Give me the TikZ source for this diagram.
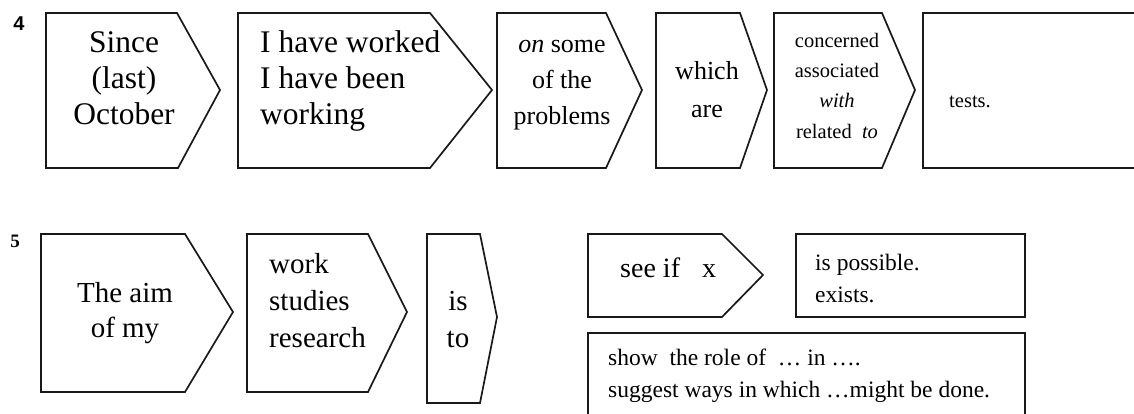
\documentclass[tikz,border=0pt]{standalone}
\usepackage{fontspec}
\setmainfont{Liberation Serif}
\newfontfamily\numsans{Liberation Sans}
\begin{document}
\begin{tikzpicture}[x=1pt,y=-1pt,
  frame/.style={draw=black!90, line width=1.7pt, line join=miter},
  txt/.style={inner sep=0pt, anchor=base},
  txtl/.style={inner sep=0pt, anchor=base west},
  fA/.style={font=\fontsize{31.5}{37}\selectfont},
  fB/.style={font=\fontsize{26}{32}\selectfont},
  fC/.style={font=\fontsize{20.5}{25}\selectfont},
  fD/.style={font=\fontsize{29}{35}\selectfont},
  fE/.style={font=\fontsize{23.5}{28}\selectfont}]
\useasboundingbox (0,0) rectangle (1134,413);
% ---- row 4 ----
\node[inner sep=0pt, anchor=base, font=\numsans\bfseries\fontsize{20}{24}\selectfont] (n4) at (19,30) {4};
\draw[frame] (46,13) -- (177,13) -- (220,90) -- (178,168) -- (46,168) -- cycle;
\draw[frame] (238,13) -- (430,13) -- (492,90) -- (430,168) -- (238,168) -- cycle;
\draw[frame] (497,13) -- (606,13) -- (642,90) -- (606,168) -- (497,168) -- cycle;
\draw[frame] (656,13) -- (740,13) -- (767,90) -- (740,168) -- (656,168) -- cycle;
\draw[frame] (774,13) -- (882,13) -- (915,90) -- (882,168) -- (774,168) -- cycle;
\draw[frame] (1136,13) -- (923,13) -- (923,168) -- (1136,168);

\node[txt,fA] (a1) at (124,52) {Since};
\node[txt,fA] (a2) at (124,88) {(last)};
\node[txt,fA] (a3) at (124,124) {October};

\node[txtl,fA] (b1) at (260,52) {I have worked};
\node[txtl,fA] (b2) at (260,88) {I have been};
\node[txtl,fA] (b3) at (260,124) {working};

\node[txt,fB] (c1) at (562,52) {\textit{on} some};
\node[txt,fB] (c2) at (562,88) {of the};
\node[txt,fB] (c3) at (562,124) {problems};

\node[txt,fB] (d1) at (707,79) {which};
\node[txt,fB] (d2) at (707,117) {are};

\node[txt,fC] (e1) at (837,47) {concerned};
\node[txt,fC] (e2) at (837,77) {associated};
\node[txt,fC] (e3) at (837,107) {\textit{with}};
\node[txt,fC] (e4) at (837,138) {related \ \textit{to}};

\node[txt,fC] (f1) at (970,107) {tests.};

% ---- row 5 ----
\node[inner sep=0pt, anchor=base, font=\bfseries\fontsize{19}{22}\selectfont] (n5) at (15,247) {5};
\draw[frame] (41,234) -- (185,234) -- (233,312) -- (185,392) -- (41,392) -- cycle;
\draw[frame] (247,234) -- (368,234) -- (407,312) -- (368,392) -- (247,392) -- cycle;
\draw[frame] (427,234) -- (480,234) -- (497,317) -- (480,403) -- (427,403) -- cycle;
\draw[frame] (588,234) -- (722,234) -- (763,275) -- (722,317) -- (588,317) -- cycle;
\draw[frame] (796,234) rectangle (1025,317);
\draw[frame] (588,415) -- (588,333) -- (1025,333) -- (1025,415);

\node[txt,fD] (g1) at (125,302) {The aim};
\node[txt,fD] (g2) at (125,337) {of my};

\node[txtl,fD] (h1) at (269,273) {work};
\node[txtl,fD] (h2) at (269,310) {studies};
\node[txtl,fD] (h3) at (269,347) {research};

\node[txt,fD] (i1) at (458,310) {is};
\node[txt,fD] (i2) at (458,347) {to};

\node[txtl,font=\fontsize{28}{32}\selectfont] (j1) at (620,277) {see if};
\node[txtl,font=\fontsize{28}{32}\selectfont] (j2) at (702,277) {x};

\node[txtl,fE] (k1) at (815,270) {is possible.};
\node[txtl,fE] (k2) at (815,302) {exists.};

\node[txtl,fE] (l1) at (608,365) {show\ \ the role of\ \ … in ….};
\node[txtl,fE] (l2) at (608,397) {suggest ways in which …might be done.};
\end{tikzpicture}
\end{document}
